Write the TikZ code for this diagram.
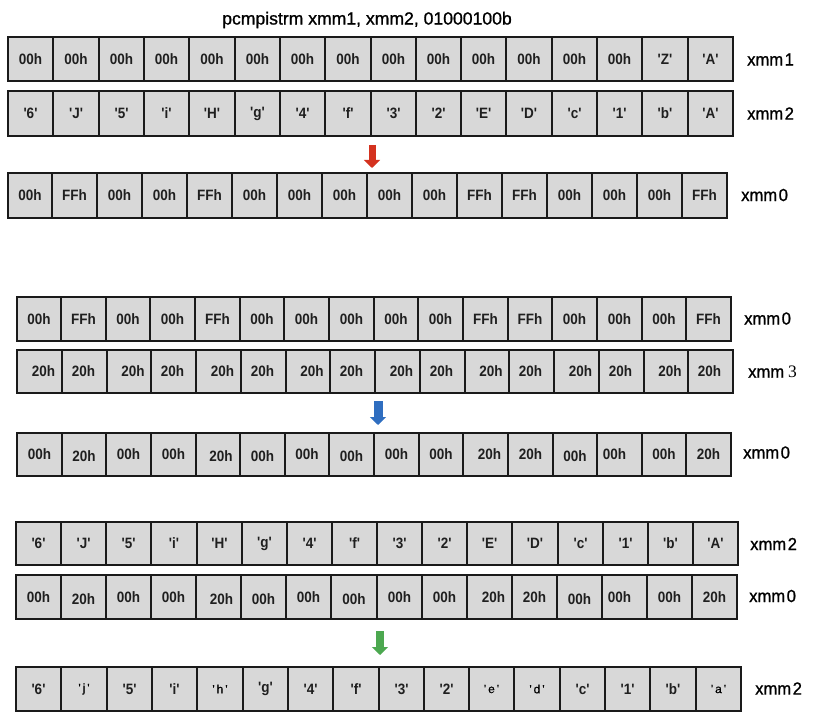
\documentclass[tikz,border=0pt]{standalone}
\usepackage{fontspec}
\setmainfont{Liberation Sans}
\newfontfamily\cellfont{Liberation Sans}[FakeStretch=0.9,Ligatures=TeXOff]
\newfontfamily\smfont{Liberation Sans}[Ligatures=TeXOff,FakeBold=0.4]
\newfontfamily\regfont{Liberation Sans}[FakeStretch=0.95,FakeBold=1]
\newfontfamily\titlefont{Liberation Sans}[FakeBold=1]
\newfontfamily\serfont{Liberation Serif}
\usetikzlibrary{arrows.meta}
\definecolor{cellgray}{HTML}{D8D8D8}
\definecolor{edgecol}{HTML}{1A1A1A}
\definecolor{arrred}{HTML}{D4321F}
\definecolor{arrblue}{HTML}{2F6EC0}
\definecolor{arrgreen}{HTML}{4CA850}
\tikzset{
  cellbox/.style={fill=cellgray, inner sep=0pt, outer sep=0pt},
  celledge/.style={draw=edgecol, line width=2pt},
  celltext/.style={font=\cellfont\bfseries\fontsize{15}{15}\selectfont, inner sep=0pt, text=black!88},
  lab/.style={font=\regfont\fontsize{17.5}{17.5}\selectfont, inner sep=0pt, anchor=west},
  titletext/.style={font=\titlefont\fontsize{17.6}{17.6}\selectfont, inner sep=0pt},
  blockarrow/.style={line width=#1, -{Triangle[width=16pt,length=8pt]}},
}
\newcommand\smq[1]{{\smfont\mdseries\fontsize{12}{12}\selectfont\color{black}'\,#1\,'}}
\newcommand\regrow[6]{%
  \pgfmathsetmacro\rw{(#3-#2)/16}%
  \pgfmathsetmacro\rh{#5-#4}%
  \pgfmathsetmacro\ry{(#4+#5)/2}%
  \foreach \txt/\dx/\dy [count=\i from 0] in {#6} {%
    \pgfmathsetmacro\xl{round(#2+\i*\rw)}%
    \pgfmathsetmacro\xr{round(#2+(\i+1)*\rw)}%
    \pgfmathsetmacro\cx{(\xl+\xr)/2}%
    \pgfmathsetmacro\cw{\xr-\xl}%
    \node[cellbox, minimum width=\cw pt, minimum height=\rh pt] (#1c\i) at (\cx,\ry) {};
    \node[celltext] (#1t\i) at ([xshift=\dx pt, yshift=-\dy pt]#1c\i.center) {\txt};
  }%
  \foreach \i in {0,...,15} {%
    \draw[celledge] (#1c\i.north west) rectangle (#1c\i.south east);
  }%
}
\begin{document}
\begin{tikzpicture}[x=1pt,y=-1pt]
\useasboundingbox (0,0) rectangle (818,722);
\node[titletext] (title) at (367,20) {pcmpistrm xmm1, xmm2, 01000100b};

% section 1
\regrow{ra}{8}{733}{37}{81}{00h/0/0,00h/0/0,00h/0/0,00h/0/0,00h/0/0,00h/0/0,00h/0/0,00h/0/0,00h/0/0,00h/0/0,00h/0/0,00h/0/0,00h/0/0,00h/0/0,'Z'/0/0,'A'/0/0}
\regrow{rb}{8}{733}{91}{136}{'6'/0/0,'J'/0/0,'5'/0/0,'i'/0/0,'H'/0/0,'g'/0/0,'4'/0/0,'f'/0/0,'3'/0/0,'2'/0/0,'E'/0/0,'D'/0/0,'c'/0/0,'1'/0/0,'b'/0/0,'A'/0/0}
\regrow{rc}{7.5}{727}{173}{218}{00h/0/0,FFh/0/0,00h/0/0,00h/0/0,FFh/0/0,00h/0/0,00h/0/0,00h/0/0,00h/0/0,00h/0/0,FFh/0/0,FFh/0/0,00h/0/0,00h/0/0,00h/0/0,FFh/0/0}
\node[lab] (la) at (747,59.5) {xmm\kern1.5pt1};
\node[lab] (lb) at (747,113.5) {xmm\kern1.5pt2};
\node[lab] (lc) at (741,195) {xmm\kern1.5pt0};
\coordinate (a1s) at (372,145);
\coordinate (a1e) at (372,168);
\draw[blockarrow=7pt, arrred] (a1s) -- (a1e);

% section 2
\regrow{rd}{16.5}{731}{297}{341}{00h/0/0,FFh/0/0,00h/0/0,00h/0/0,FFh/0/0,00h/0/0,00h/0/0,00h/0/0,00h/0/0,00h/0/0,FFh/0/0,FFh/0/0,00h/0/0,00h/0/0,00h/0/0,FFh/0/0}
\regrow{re}{17}{733}{350}{393}{20h/4/0,20h/-1/0,20h/4/0,20h/-1/0,20h/4/0,20h/-1/0,20h/4/0,20h/-1/0,20h/4/0,20h/-1/0,20h/4/0,20h/-1/0,20h/4/0,20h/-1/0,20h/4/0,20h/-1/0}
\regrow{rf}{17}{731}{433}{476}{00h/0/0,20h/0/2,00h/0/0,00h/0/0,20h/3/2,00h/0/2,00h/0/0,00h/0/2,00h/0/0,00h/0/0,20h/4/0,20h/0/0,00h/0/2,00h/-5/0,00h/0/0,20h/0/0}
\node[lab] (ld) at (744,318.5) {xmm\kern1.5pt0};
\node[lab] (le) at (748,372) {xmm\kern4pt{\serfont 3}};
\node[lab] (lf) at (743,452.5) {xmm\kern1.5pt0};
\coordinate (a2s) at (378,401);
\coordinate (a2e) at (378,425);
\draw[blockarrow=9pt, arrblue] (a2s) -- (a2e);

% section 3
\regrow{rg}{16}{738}{522}{565}{'6'/0/0,'J'/0/0,'5'/0/0,'i'/0/0,'H'/0/0,'g'/0/0,'4'/0/0,'f'/0/0,'3'/0/0,'2'/0/0,'E'/0/0,'D'/0/0,'c'/0/0,'1'/0/0,'b'/0/0,'A'/0/0}
\regrow{rh}{16}{737}{575}{619}{00h/0/0,20h/0/2,00h/0/0,00h/0/0,20h/3/2,00h/0/2,00h/0/0,00h/0/2,00h/0/0,00h/0/0,20h/4/0,20h/0/0,00h/0/2,00h/-5/0,00h/0/0,20h/0/0}
\regrow{ri}{16}{741}{667}{711}{'6'/0/0,\smq{j}/0/0,'5'/0/0,'i'/0/0,\smq{h}/0/0,'g'/0/0,'4'/0/0,'f'/0/0,'3'/0/0,'2'/0/0,\smq{e}/0/0,\smq{d}/0/0,'c'/0/0,'1'/0/0,'b'/0/0,\smq{a}/0/0}
\node[lab] (lg) at (750,544) {xmm\kern1.5pt2};
\node[lab] (lh) at (749,596) {xmm\kern1.5pt0};
\node[lab] (li) at (755,688.5) {xmm\kern1.5pt2};
\coordinate (a3s) at (380,631);
\coordinate (a3e) at (380,655);
\draw[blockarrow=7.5pt, arrgreen] (a3s) -- (a3e);
\end{tikzpicture}
\end{document}
